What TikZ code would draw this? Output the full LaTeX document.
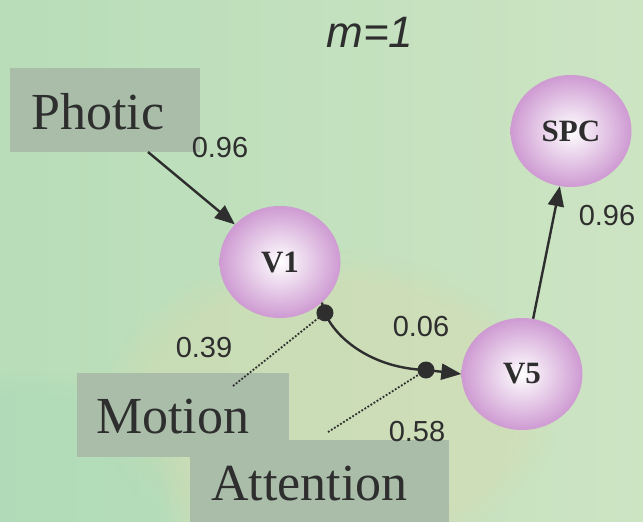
\documentclass[tikz,border=0pt]{standalone}
\usepackage{fontspec}
\setmainfont{Liberation Serif}
\newfontfamily\arialf{Liberation Sans}
\usetikzlibrary{shapes.geometric,arrows.meta,fadings}
\definecolor{bgL}{HTML}{B8DDB8}
\definecolor{bgR}{HTML}{CDE4C3}
\definecolor{bgY}{HTML}{D6DAB0}
\definecolor{bgM}{HTML}{A8D9B8}
\definecolor{boxc}{HTML}{A9BDA9}
\definecolor{txt}{HTML}{2E2E2E}
\definecolor{pinkedge}{HTML}{CE9AD2}
\tikzset{
  lbox/.style={fill=boxc, draw=none},
  bigtxt/.style={font=\fontsize{52}{52}\selectfont, text=txt, inner sep=0pt, anchor=base west},
  area/.style={ellipse, minimum width=121pt, minimum height=112pt, inner sep=0pt,
    shading=radial, inner color=white, outer color=pinkedge,
    font=\bfseries\fontsize{31}{31}\selectfont, text=txt},
  num/.style={font=\arialf\fontsize{29}{29}\selectfont, text=txt, inner sep=0pt},
  conn/.style={draw=txt, line width=2.4pt, -{Triangle[length=20pt,width=16pt]}},
  dotl/.style={draw=txt, line width=1.8pt, dash pattern=on 1.8pt off 1.8pt},
  junct/.style={circle, fill=txt, minimum size=17pt, inner sep=0pt}
}
\begin{document}
\begin{tikzpicture}[x=1pt,y=-1pt]
\useasboundingbox (0,0) rectangle (643,522);
% background
\shade[left color=bgL, right color=bgR] (0,0) rectangle (643,522);
\fill[bgY, path fading=circle with fuzzy edge 20 percent, opacity=0.45] (330,410) ellipse (230 and 160);
\fill[bgM, path fading=circle with fuzzy edge 20 percent, opacity=0.4] (30,490) ellipse (160 and 120);
% title
\node[font=\arialf\itshape\fontsize{44}{44}\selectfont, text=txt] (title) at (370,32) {m=1};
% boxes
\fill[lbox] (10,68) rectangle (200,152);
\fill[lbox] (77,373) rectangle (289,457);
\fill[lbox] (190,440) rectangle (449,522);
\node[bigtxt] (photic) at (31,129) {Photic};
\node[bigtxt] (motion) at (96,433) {Motion};
\node[bigtxt] (attention) at (211,500) {Attention};
% areas
\node[area] (V1) at (280,262) {V1};
\node[area] (V5) at (522,374) {V5};
\node[area] (SPC) at (571,131) {SPC};
% connectors
\coordinate (pA) at (148,152);
\draw[conn] (pA) -- (V1);
\draw[conn] (V5) -- (SPC);
\coordinate (d2) at (426,370);
\draw[draw=txt, line width=2.4pt] (V1.-44) .. controls (326,330) and (365,368) .. coordinate[pos=0.12] (d1) (d2);
\draw[conn] (d2) -- (V5.west);
\coordinate (mA) at (233,386);
\coordinate (aA) at (328,432);
\draw[dotl] (mA) -- (d1);
\draw[dotl] (aA) -- (d2);
\node[junct] (j1) at (d1) {};
\node[junct] (j2) at (d2) {};
% labels
\node[num] (l1) at (220,148) {0.96};
\node[num] (l2) at (607,216) {0.96};
\node[num] (l3) at (204,348) {0.39};
\node[num] (l4) at (421,327) {0.06};
\node[num] (l5) at (417,432) {0.58};
\end{tikzpicture}
\end{document}
